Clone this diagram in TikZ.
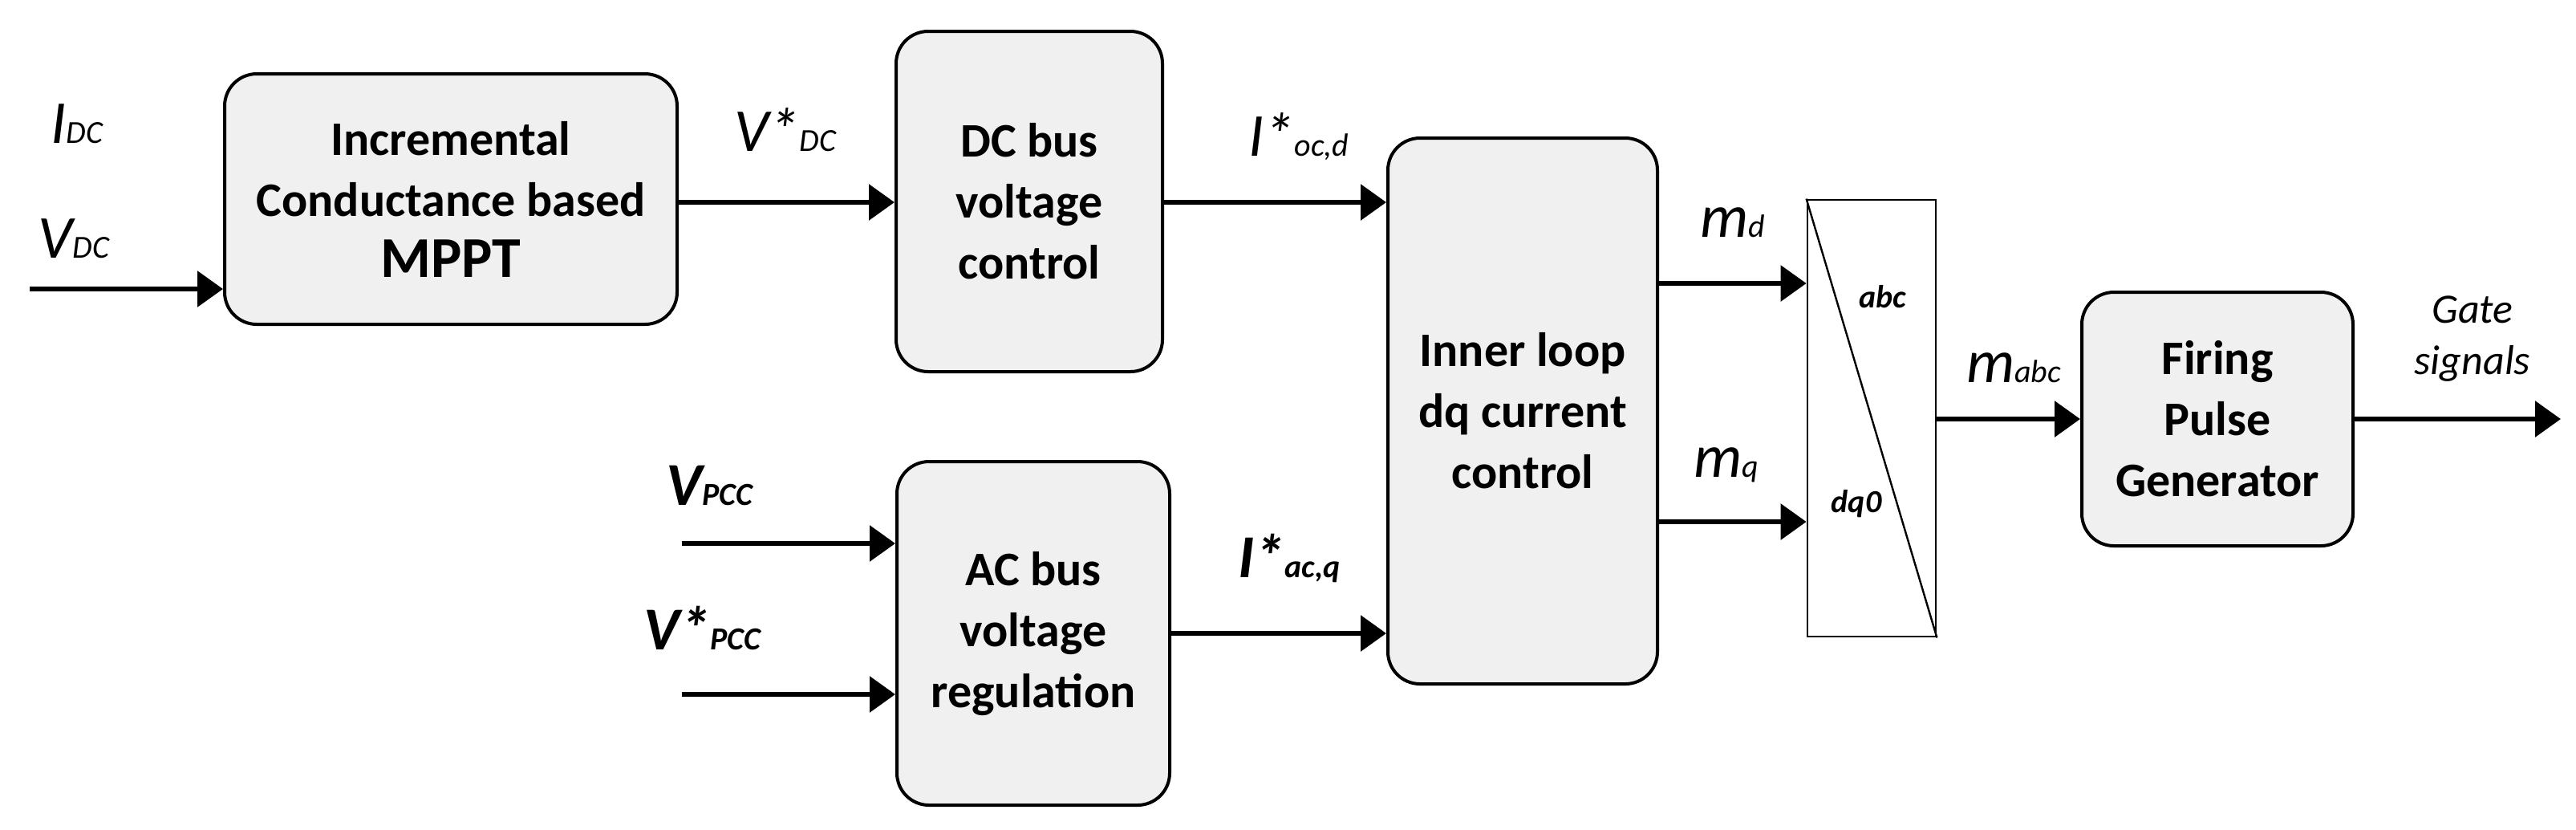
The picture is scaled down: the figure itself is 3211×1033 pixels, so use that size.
\documentclass[tikz,border=0pt]{standalone}
\usepackage{fontspec}
\setmainfont{Carlito}
\usetikzlibrary{arrows.meta}
\newcommand{\lbl}[2]{{\itshape #1}{\fontsize{10}{12}\selectfont\itshape #2}}
\begin{document}
\begin{tikzpicture}[x=0.25pt,y=-0.25pt,
  blk/.style={draw,line width=1pt,fill={rgb,255:red,240;green,240;blue,240},rounded corners=10pt,align=center,font=\fontsize{15}{19}\selectfont\bfseries,inner sep=0pt},
  arr/.style={line width=1.5pt,-{Triangle[length=8pt,width=11pt]}},
  lab/.style={font=\fontsize{19}{22}\selectfont,inner sep=0pt}]
\useasboundingbox (0,0) rectangle (3211,1033);
\node[blk,minimum width=141pt,minimum height=78pt] (mppt) at (562,248) {Incremental\\Conductance based\\{\fontsize{18}{22}\selectfont MPPT}};
\node[blk,minimum width=83pt,minimum height=106pt] (dc) at (1283,251) {DC bus\\voltage\\control};
\node[blk,minimum width=85pt,minimum height=107pt] (ac) at (1288,789) {AC bus\\voltage\\regulation};
\node[blk,minimum width=84pt,minimum height=170pt] (inner) at (1898,512) {Inner loop\\dq current\\control};
\node[draw,line width=0.7pt,fill=white,minimum width=40pt,minimum height=136pt,inner sep=0pt] (tr) at (2333,521) {};
\draw[line width=0.6pt] (tr.north west) -- (tr.south east);
\node[font=\fontsize{10}{12}\selectfont\bfseries\itshape] (abc) at (2347,370) {abc};
\node[font=\fontsize{10}{12}\selectfont\bfseries\itshape] (dq0) at (2314,628) {dq0};
\node[blk,minimum width=84.5pt,minimum height=79pt] (fpg) at (2764,522) {Firing\\Pulse\\Generator};

\coordinate (vin) at (37,360);
\coordinate (p1) at (850,677);
\coordinate (p2) at (850,865);
\coordinate (gout) at (3192,522);
\draw[arr] (vin) -- (mppt.west |- vin);
\draw[arr] (mppt.east |- 0,252) -- (dc.west |- 0,252);
\draw[arr] (dc.east |- 0,252) -- (inner.west |- 0,252);
\draw[arr] (p1) -- (ac.west |- p1);
\draw[arr] (p2) -- (ac.west |- p2);
\draw[arr] (ac.east |- 0,789) -- (inner.west |- 0,789);
\draw[arr] (inner.east |- 0,353) -- (tr.west |- 0,353);
\draw[arr] (inner.east |- 0,650) -- (tr.west |- 0,650);
\draw[arr] (tr.east |- fpg) -- (fpg.west);
\draw[arr] (fpg.east) -- (gout);

\node[lab] (idc) at (96,154) {\lbl{I}{DC}};
\node[lab] (vdc) at (92,297) {\lbl{V}{DC}};
\node[lab] (vsdc) at (979,162) {\lbl{V*}{DC}};
\node[lab] (iocd) at (1619,170) {\lbl{I*}{oc,d}};
\node[lab,font=\fontsize{19}{22}\selectfont\bfseries] (vpcc) at (884,605) {\lbl{V}{PCC}};
\node[lab,font=\fontsize{19}{22}\selectfont\bfseries] (vspcc) at (875,782) {\lbl{V*}{PCC}};
\node[lab,font=\fontsize{19}{22}\selectfont\bfseries] (iacq) at (1607,695) {\lbl{I*}{ac,q}};
\node[lab] (md) at (2160,277) {\lbl{m}{d}};
\node[lab] (mq) at (2152,579) {\lbl{m}{q}};
\node[lab] (mabc) at (2510,458) {\lbl{m}{abc}};
\node[font=\fontsize{13}{16}\selectfont\itshape,align=center,inner sep=0pt] (gs) at (3082,422) {Gate\\signals};
\end{tikzpicture}
\end{document}
